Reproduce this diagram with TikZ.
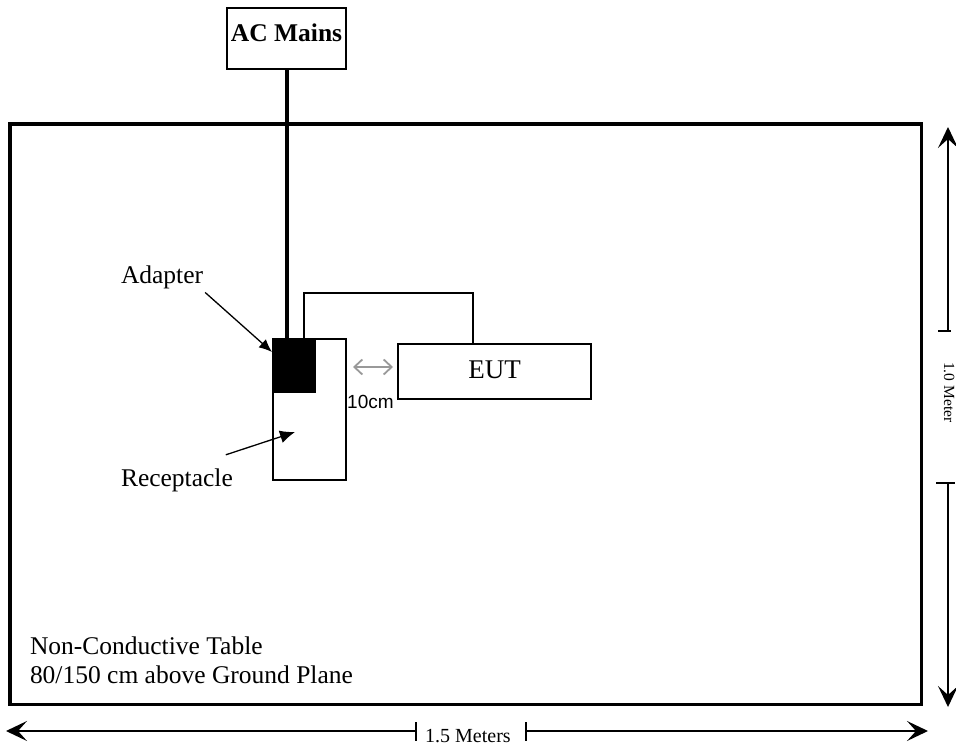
\documentclass[tikz,border=0pt]{standalone}
\usepackage{fontspec}
\setmainfont{Liberation Serif}
\newfontfamily\arialfont{Liberation Sans}
\usetikzlibrary{arrows.meta}
\begin{document}
\begin{tikzpicture}[x=1pt,y=-1pt,
  box/.style={draw, line width=2pt, inner sep=0pt, outer sep=0pt},
  lbl/.style={font=\fontsize{25.5}{30}\selectfont, inner sep=0pt, outer sep=0pt},
  ptr/.style={line width=1.3pt, -{Latex[length=13pt,width=11pt]}},
  bigptr/.style={line width=1.3pt, -{Latex[length=15pt,width=13pt]}},
  dimarrow/.style={line width=1.3pt, -{Stealth[length=21pt,width=20pt,inset=9pt]}},
  tick/.style={line width=1.3pt},
  gaparrow/.style={draw=black!40, line width=1.8pt, {Straight Barb[length=8pt,width=15pt]}-{Straight Barb[length=8pt,width=15pt]}}
]
\useasboundingbox (0,0) rectangle (956,749);

% table
\node[draw, line width=3.5pt, minimum width=911.5pt, minimum height=580.5pt, inner sep=0pt, outer sep=0pt] (table) at (465.75,414.25) {};

% AC mains
\node[box, minimum width=119pt, minimum height=61pt] (ac) at (286.5,38.5) {};
\node[lbl, font=\bfseries\fontsize{25.5}{30}\selectfont, anchor=base] (actext) at (286.5,42) {AC Mains};

% receptacle, adapter, EUT
\node[box, minimum width=73pt, minimum height=141pt] (rec) at (309.5,409.5) {};
\node[fill=black, draw=black, line width=0.5pt, inner sep=0pt, outer sep=0pt, minimum width=42pt, minimum height=53pt] (adapter) at (294,365.5) {};
\node[box, minimum width=193pt, minimum height=55pt] (eut) at (494.5,371.5) {};
\node[lbl, font=\fontsize{27}{32}\selectfont, anchor=base] (euttext) at (494.5,378) {EUT};

% mains wire
\draw[line width=4pt] (ac.south) -- (ac.south |- adapter.north);
% EUT cable
\coordinate (bend) at (473,293);
\draw[line width=2pt] ([xshift=10pt]adapter.north) |- (bend) -- (bend |- eut.north);

% labels and pointers
\node[lbl, anchor=base west] (adlabel) at (121,283) {Adapter};
\node[lbl, anchor=base west] (reclabel) at (121,486) {Receptacle};
\coordinate (adtip) at (272,352);
\coordinate (rectip) at (295,432);
\draw[ptr] ([shift={(2,4)}]adlabel.south east) -- (adtip);
\draw[bigptr] ([shift={(-7,-13.5)}]reclabel.north east) -- (rectip);

\node[lbl, anchor=base west] (tl1) at (30,654) {Non-Conductive Table};
\node[lbl, anchor=base west] (tl2) at (30,683) {80/150 cm above Ground Plane};

% 10cm gap
\node[font=\arialfont\fontsize{19}{22}\selectfont, anchor=base west, inner sep=0pt] (tencm) at (347,408) {10cm};
\coordinate (g1) at (353,367);
\coordinate (g2) at (393,367);
\draw[gaparrow] (g1) -- (g2);

% vertical dimension
\coordinate (vt) at (948,127);
\coordinate (vb) at (948,707);
\coordinate (vk1) at (948,331);
\coordinate (vk2) at (948,483);
\draw[dimarrow] (vk1) -- (vt);
\draw[dimarrow] (vk2) -- (vb);
\draw[tick] ([shift={(-10,0)}]vk1) -- ([shift={(3,0)}]vk1);
\draw[tick] ([shift={(-12,0)}]vk2) -- ([shift={(7,0)}]vk2);
\node[font=\fontsize{15.5}{18}\selectfont, rotate=-90, anchor=base west, inner sep=0pt] (vlabel) at (944,362) {1.0 Meter};

% horizontal dimension
\coordinate (hl) at (6,731);
\coordinate (hr) at (928,731);
\coordinate (hk1) at (416,731);
\coordinate (hk2) at (526,731);
\draw[dimarrow] (hk1) -- (hl);
\draw[dimarrow] (hk2) -- (hr);
\draw[tick] ([shift={(0,-9)}]hk1) -- ([shift={(0,10)}]hk1);
\draw[tick] ([shift={(0,-9)}]hk2) -- ([shift={(0,10)}]hk2);
\node[font=\fontsize{20}{24}\selectfont, anchor=base west, inner sep=0pt] (hlabel) at (425,742) {1.5 Meters};
\end{tikzpicture}
\end{document}
